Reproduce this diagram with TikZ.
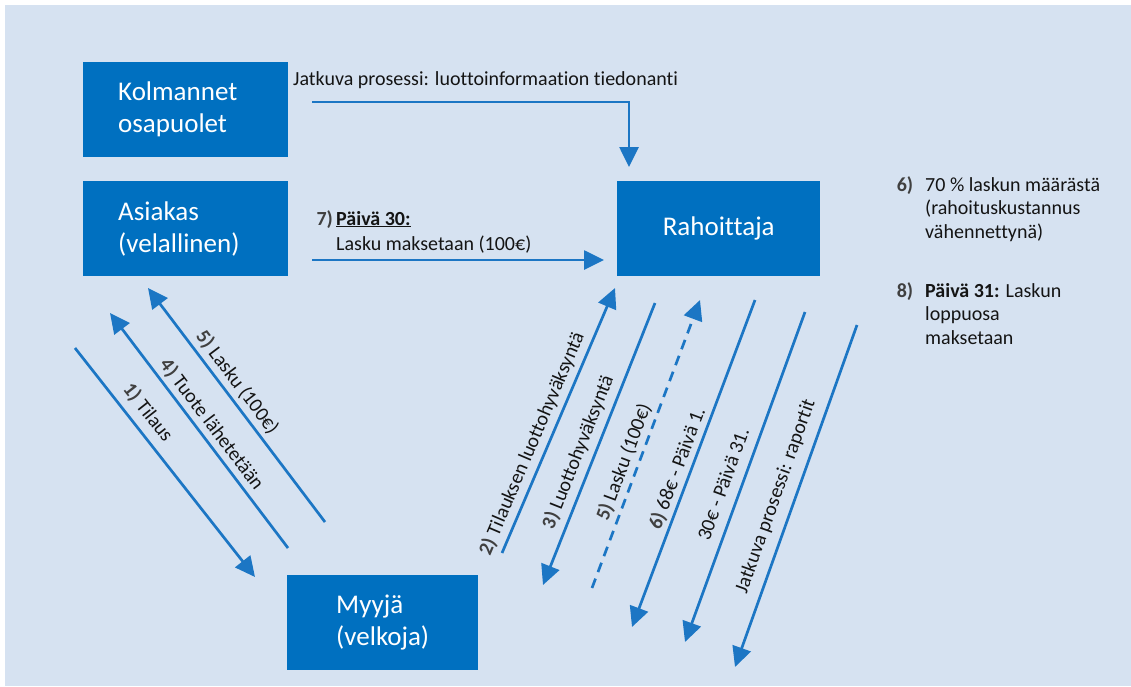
\documentclass[tikz,border=0pt]{standalone}
\usepackage{fontspec}
\setmainfont{Carlito}[Ligatures=CommonOff]
\usetikzlibrary{arrows.meta}
\definecolor{boxblue}{RGB}{0,112,192}
\definecolor{flowblue}{RGB}{28,118,196}
\definecolor{paleblue}{RGB}{214,226,241}
\definecolor{numgray}{RGB}{64,64,64}
\definecolor{inkblack}{RGB}{20,20,20}
\newcommand{\stepnum}[1]{\textbf{\textcolor{numgray}{#1}}}

\begin{document}
\begin{tikzpicture}[x=1pt,y=-1pt,
            party/.style={fill=boxblue,text=white,inner sep=0pt,anchor=north west,
                          font=\fontsize{27}{32}\selectfont,minimum height=95pt},
            indented/.style={align=left,text width=135pt,inner xsep=35pt},
            flow/.style={draw=flowblue,line width=2.7pt,-{Triangle[width=19pt,length=20pt]}},
            note/.style={font=\fontsize{20}{24}\selectfont,text=inkblack,inner sep=0pt},
            tag/.style={note,sloped,above=#1}]
            \useasboundingbox (0,0) rectangle (1131,686);
            \fill[white] (0,0) rectangle (1131,686);
            \fill[paleblue] (5,5) rectangle (1131,686);
            %==================
            \node[party,indented] (kolm) at (83,62) {Kolmannet\\osapuolet};
            \node[party,indented] (asiakas) at (83,181) {Asiakas\\(velallinen)};
            \node[party,minimum width=203pt] (rahoittaja) at (617,181) {Rahoittaja};
            \node[party,minimum width=191pt,align=left] (myyja) at (287,575) {Myyjä\\(velkoja)};
            %==================
            \node[note,anchor=west] (infolbl) at (293,80) {Jatkuva prosessi: luottoinformaation tiedonanti};
            \node[note,anchor=north west,align=left,font=\fontsize{20}{25}\selectfont] (paylbl) at (336,210)
                {\llap{\stepnum{7)}\,}\underline{\textbf{Päivä 30:}}\\Lasku maksetaan (100€)};
            \node[note,anchor=north west,align=left,font=\fontsize{20}{23.5}\selectfont] (share) at (925,176)
                {\llap{\stepnum{6)}\hspace{0.6em}}70~\% laskun määrästä\\(rahoituskustannus\\vähennettynä)};
            \node[note,anchor=north west,align=left,font=\fontsize{20}{23.5}\selectfont] (rest) at (925,282)
                {\llap{\stepnum{8)}\hspace{0.6em}}\textbf{Päivä 31:} Laskun\\loppuosa\\maksetaan};
            % ===================
            \foreach \n/\x/\y in {info-a/312/102,info-b/629/167,pay-a/312/260,pay-b/604/260,
                                  ord-a/75/348,ord-b/255/577,ship-a/288/548,ship-b/110/313,
                                  bill-a/325/522,bill-b/148/288,chk-a/502/553,chk-b/615/288,
                                  ok-a/655/303,ok-b/543/585,fwd-a/592/588,fwd-b/700/300,
                                  adv-a/755/300,adv-b/632/627,fin-a/805/312,fin-b/685/642,
                                  rep-a/857/325,rep-b/735/667}{
            \coordinate (\n) at (\x,\y);
            }
            % ===================
            \draw[flow] (info-a) -| (info-b);
            \draw[flow] (pay-a) -- (pay-b);
            \draw[flow] (ord-a) -- node[tag=7pt,pos=.33] {\stepnum{1)} Tilaus} (ord-b);
            \draw[flow] (ship-a) -- node[tag=3.5pt,pos=.49] {\stepnum{4)} Tuote lähetetään} (ship-b);
            \draw[flow] (bill-a) -- node[tag=4pt,pos=.56] {\stepnum{5)} Lasku (100€)} (bill-b);
            \draw[flow] (chk-a) -- node[tag=5pt,pos=.39] {\stepnum{2)} Tilauksen luottohyväksyntä} (chk-b);
            \draw[flow] (ok-a) -- node[tag=6pt,pos=.55] {\stepnum{3)} Luottohyväksyntä} (ok-b);
            \draw[flow,dash pattern=on 10pt off 7pt] (fwd-a) -- node[tag=4pt,pos=.42] {\stepnum{5)} Lasku (100€)} (fwd-b);
            \draw[flow] (adv-a) -- node[tag=3pt,pos=.53] {\stepnum{6)} 68€ - Päivä 1.} (adv-b);
            \draw[flow] (fin-a) -- node[tag=10pt,pos=.54] {30€ - Päivä 31.} (fin-b);
            \draw[flow] (rep-a) -- node[tag=9pt,pos=.52] {Jatkuva prosessi: raportit} (rep-b);
        \end{tikzpicture}
\end{document}
